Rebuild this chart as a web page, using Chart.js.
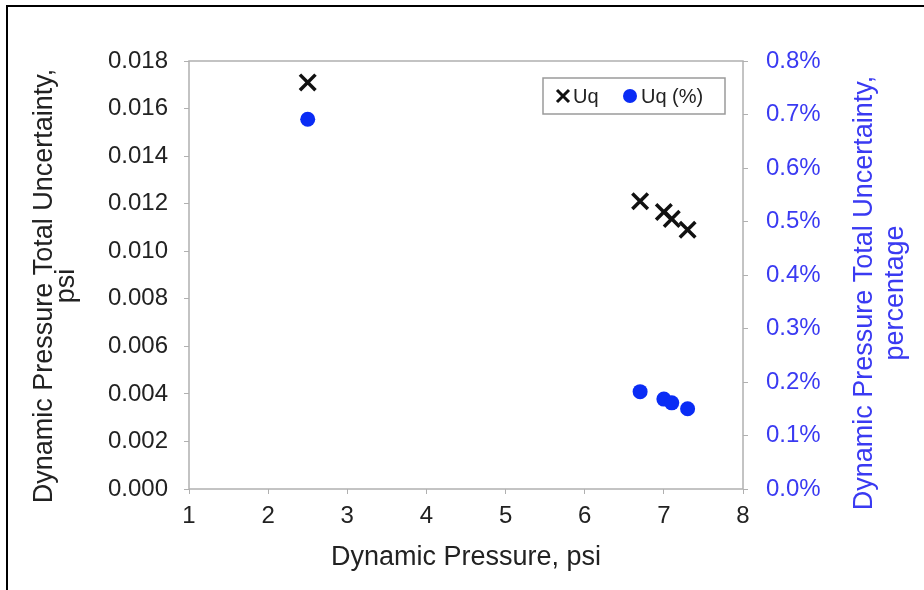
<!DOCTYPE html>
<html>
<head>
<meta charset="utf-8">
<script src="https://cdn.jsdelivr.net/npm/chart.js@4.4.1/dist/chart.umd.min.js"></script>
<style>
  html, body { margin: 0; padding: 0; background: #fff; }
</style>
</head>
<body>
<canvas id="uqChart" width="924" height="590"></canvas>
<script>
// values
const pressure = [2.5, 6.7, 7.0, 7.1, 7.3];
const uqPsi = [0.0171, 0.0121, 0.01165, 0.01136, 0.0109];
const uqPct = [0.691, 0.182, 0.168, 0.161, 0.150];

const xTicks = [1, 2, 3, 4, 5, 6, 7, 8];
const psiTicks = [0, 0.002, 0.004, 0.006, 0.008, 0.010, 0.012, 0.014, 0.016, 0.018];
const pctTicks = [0, 0.1, 0.2, 0.3, 0.4, 0.5, 0.6, 0.7, 0.8];

const leftTitle = ['Dynamic Pressure Total Uncertainty,', 'psi'];
const rightTitle = ['Dynamic Pressure Total Uncertainty,', 'percentage'];

const FONT = "'Liberation Sans', Arial, sans-serif";
const DARK = '#222222';
const BLUE = '#3a3af2';
const AXIS = '#b0b0b0';

function pts(ys) {
  return pressure.map((x, i) => ({ x: x, y: ys[i] }));
}

function setTicks(list) {
  return (scale) => { scale.ticks = list.map((v) => ({ value: v })); };
}

// outer frame, plot box, side titles and legend box
const decorations = {
  id: 'decorations',
  beforeDraw(chart) {
    const ctx = chart.ctx;
    ctx.save();
    ctx.fillStyle = '#fff';
    ctx.fillRect(0, 0, chart.width, chart.height);
    ctx.strokeStyle = '#000';
    ctx.lineWidth = 2;
    ctx.beginPath();
    ctx.moveTo(7, chart.height);
    ctx.lineTo(7, 6);
    ctx.lineTo(chart.width, 6);
    ctx.stroke();
    ctx.restore();
  },
  beforeDatasetsDraw(chart) {
    const ctx = chart.ctx;
    const a = chart.chartArea;
    ctx.save();
    ctx.strokeStyle = AXIS;
    ctx.lineWidth = 1.5;
    ctx.strokeRect(a.left, a.top, a.right - a.left, a.bottom - a.top);
    ctx.restore();
  },
  afterDraw(chart) {
    const ctx = chart.ctx;
    const a = chart.chartArea;
    const mid = (a.top + a.bottom) / 2;

    const drawSide = (lines, x, y, gap, color) => {
      ctx.save();
      ctx.translate(x, y);
      ctx.rotate(-Math.PI / 2);
      ctx.fillStyle = color;
      ctx.font = '27px ' + FONT;
      ctx.textAlign = 'center';
      ctx.textBaseline = 'middle';
      lines.forEach((t, i) => ctx.fillText(t, 0, i * gap));
      ctx.restore();
    };
    drawSide(leftTitle, 45, mid + 11, 22, DARK);
    drawSide(rightTitle, 865, mid + 18, 31, BLUE);

    // legend
    const bx = a.right - 200, by = a.top + 17, bw = 182, bh = 36;
    ctx.save();
    ctx.strokeStyle = '#9a9a9a';
    ctx.lineWidth = 1.5;
    ctx.strokeRect(bx, by, bw, bh);
    ctx.font = '20px ' + FONT;
    ctx.textBaseline = 'middle';
    const cy = by + bh / 2;
    const ds = chart.data.datasets;
    // cross marker
    ctx.strokeStyle = ds[0].borderColor;
    ctx.lineWidth = 3;
    ctx.beginPath();
    ctx.moveTo(bx + 14, cy - 6); ctx.lineTo(bx + 26, cy + 6);
    ctx.moveTo(bx + 26, cy - 6); ctx.lineTo(bx + 14, cy + 6);
    ctx.stroke();
    ctx.fillStyle = DARK;
    ctx.fillText(ds[0].label, bx + 30, cy + 1);
    // dot marker
    ctx.fillStyle = ds[1].backgroundColor;
    ctx.beginPath();
    ctx.arc(bx + 87, cy, 7, 0, Math.PI * 2);
    ctx.fill();
    ctx.fillStyle = DARK;
    ctx.fillText(ds[1].label, bx + 98, cy + 1);
    ctx.restore();
  }
};

const ctx = document.getElementById('uqChart').getContext('2d');

const chart = new Chart(ctx, {
  type: 'scatter',
  data: {
    datasets: [
      {
        label: 'Uq',
        data: pts(uqPsi),
        yAxisID: 'y',
        pointStyle: 'crossRot',
        pointRadius: 11,
        borderWidth: 3.5,
        borderColor: '#111111',
        backgroundColor: '#111111',
      },
      {
        label: 'Uq (%)',
        data: pts(uqPct),
        yAxisID: 'y1',
        pointStyle: 'circle',
        pointRadius: 7.5,
        borderWidth: 0,
        borderColor: '#0a2cf5',
        backgroundColor: '#0a2cf5',
      },
    ],
  },
  options: {
    responsive: false,
    animation: false,
    devicePixelRatio: 1,
    layout: { padding: { top: 61, left: 0, right: 0, bottom: 0 } },
    plugins: {
      legend: { display: false },
      tooltip: { enabled: false },
    },
    scales: {
      x: {
        type: 'linear',
        min: 1,
        max: 8,
        afterBuildTicks: setTicks(xTicks),
        afterFit: (s) => { s.height = 101; },
        border: { display: false },
        grid: { drawOnChartArea: false, color: AXIS, tickLength: 5 },
        ticks: { color: DARK, font: { family: FONT, size: 24 }, padding: 8 },
        title: {
          display: true,
          text: 'Dynamic Pressure, psi',
          color: DARK,
          font: { family: FONT, size: 27 },
          padding: { top: 0, bottom: 16 },
        },
      },
      y: {
        position: 'left',
        min: 0,
        max: 0.018,
        afterBuildTicks: setTicks(psiTicks),
        afterFit: (s) => { s.width = 189; },
        border: { display: false },
        grid: { drawOnChartArea: false, color: AXIS, tickLength: 5 },
        ticks: {
          color: DARK,
          font: { family: FONT, size: 24 },
          padding: 16,
          callback: (v) => v.toFixed(3),
        },
      },
      y1: {
        position: 'right',
        min: 0,
        max: 0.8,
        afterBuildTicks: setTicks(pctTicks),
        afterFit: (s) => { s.width = 181; },
        border: { display: false },
        grid: { drawOnChartArea: false, color: AXIS, tickLength: 5 },
        ticks: {
          color: BLUE,
          font: { family: FONT, size: 24 },
          padding: 18,
          callback: (v) => v.toFixed(1) + '%',
        },
      },
    },
  },
  plugins: [decorations],
});
</script>
</body>
</html>
